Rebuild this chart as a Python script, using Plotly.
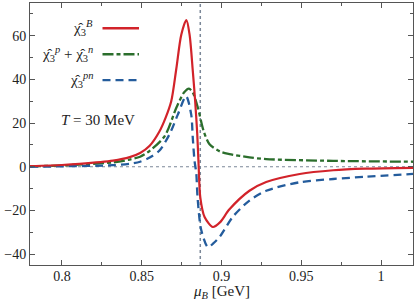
import plotly.graph_objects as go

# --- data ---
mu_B = [0.78, 0.80, 0.811, 0.832, 0.8425, 0.849, 0.855, 0.861, 0.865, 0.8685, 0.8717, 0.8748,
        0.878, 0.880, 0.882, 0.8835, 0.8848, 0.8857, 0.8867, 0.8894, 0.8946, 0.899, 0.905,
        0.9175, 0.928, 0.949, 0.97, 0.99, 1.02]
chi_B = [0.3, 0.8, 1.3, 2.8, 4.4, 6.3, 9.6, 16.0, 22.5, 30.0, 45.0, 60.5,
         67.2, 60.5, 44.0, 30.0, 15.0, 0.0, -14.0, -23.0, -27.6, -25.5, -19.5,
         -11.0, -7.0, -3.3, -1.6, -0.9, -0.5]

mu_pn = [0.78, 0.80, 0.832, 0.8425, 0.849, 0.855, 0.8644, 0.8717, 0.8765, 0.8796, 0.882,
         0.8852, 0.8888, 0.8925, 0.899, 0.905, 0.9175, 0.928, 0.97, 1.02]
chi_p_plus_n = [0.2, 0.6, 2.0, 3.3, 4.6, 7.3, 14.0, 27.0, 34.0, 35.8, 34.0,
                27.0, 16.4, 10.3, 7.0, 5.8, 4.3, 3.5, 2.7, 2.3]

mu_x = [0.78, 0.80, 0.832, 0.8425, 0.849, 0.855, 0.861, 0.8675, 0.8727, 0.8778, 0.881,
        0.882, 0.8831, 0.8842, 0.885, 0.8873, 0.8915, 0.895, 0.899, 0.907, 0.9175,
        0.928, 0.949, 0.97, 0.99, 1.02]
chi_pn = [0.0, 0.2, 0.7, 1.4, 2.3, 4.2, 7.3, 15.0, 24.0, 32.3, 24.0,
          13.3, 2.7, -3.0, -14.0, -29.0, -36.8, -35.0, -32.0, -23.0, -15.5,
          -11.0, -7.1, -5.6, -4.6, -3.3]

mu_transition = 0.8867

x_ticks = [0.8, 0.85, 0.9, 0.95, 1.0]
x_ticklabels = ["0.8", "0.85", "0.9", "0.95", "1"]
y_ticks = [-40, -20, 0, 20, 40, 60]

RED = "#d2232a"
GREEN = "#2b6e2c"
BLUE = "#245c9c"
FONT = "Liberation Serif"
TXT = "#222222"

fig = go.Figure()
fig.add_trace(go.Scatter(x=mu_pn, y=chi_p_plus_n, mode="lines",
                         line=dict(color=GREEN, width=2.3, dash="11px,3px,4px,3px", shape="spline", smoothing=0.8),
                         showlegend=False))
fig.add_trace(go.Scatter(x=mu_x, y=chi_pn, mode="lines",
                         line=dict(color=BLUE, width=2.3, dash="8px,5px", shape="spline", smoothing=0.8),
                         showlegend=False))
fig.add_trace(go.Scatter(x=mu_B, y=chi_B, mode="lines",
                         line=dict(color=RED, width=2.2, shape="spline", smoothing=0.8),
                         showlegend=False))

ref_color = "#7b8798"
fig.add_vline(x=mu_transition, line=dict(color=ref_color, width=1.5, dash="dot"), layer="below")
fig.add_hline(y=0, line=dict(color=ref_color, width=1, dash="dot"), layer="below")

axis_common = dict(showline=True, linecolor="#555555", linewidth=1, mirror="ticks",
                   ticks="inside", ticklen=5, tickcolor="#555555", showgrid=False,
                   zeroline=False, tickfont=dict(family=FONT, size=14, color=TXT))

fig.update_xaxes(range=[0.78, 1.02], tickvals=x_ticks, ticktext=x_ticklabels,
                 minor=dict(dtick=0.025, tick0=0.8, ticks="inside", ticklen=3, tickcolor="#555555"),
                 ticklabelstandoff=-2,
                 **axis_common)
fig.update_yaxes(range=[-45, 75], tickvals=y_ticks,
                 minor=dict(dtick=10, tick0=0, ticks="inside", ticklen=3, tickcolor="#555555"),
                 **axis_common)

# manual legend (text left of line sample)
def px_x(p):
    return (p - 30) / 383.0

def px_y(p):
    return 1 - (p - 2.7) / 262.3

legend_rows = [
    ("χ̂<sub>3</sub><sup><i>B</i></sup>", RED, "solid", 28),
    ("χ̂<sub>3</sub><sup><i>p</i></sup> + χ̂<sub>3</sub><sup><i>n</i></sup>", GREEN, "11px,3px,4px,3px", 54),
    ("χ̂<sub>3</sub><sup><i>pn</i></sup>", BLUE, "8px,5px", 80),
]
for text, col, dash, ypx in legend_rows:
    fig.add_annotation(x=px_x(95), y=px_y(ypx), xref="paper", yref="paper", text=text,
                       showarrow=False, xanchor="right", yanchor="middle",
                       font=dict(family=FONT, size=15, color=TXT))
    fig.add_shape(type="line", xref="paper", yref="paper",
                  x0=px_x(102.5), x1=px_x(139), y0=px_y(ypx), y1=px_y(ypx),
                  line=dict(color=col, width=2.3, dash=dash))

fig.add_annotation(x=px_x(137), y=px_y(120), xref="paper", yref="paper",
                   text="<i>T</i> = 30 MeV", showarrow=False, xanchor="right", yanchor="middle",
                   font=dict(family=FONT, size=15, color=TXT))

# x-axis title as annotation
fig.add_annotation(x=px_x(222), y=px_y(292), xref="paper", yref="paper",
                   text="<i>μ</i><sub><i>B</i></sub> [GeV]", showarrow=False,
                   xanchor="center", yanchor="middle",
                   font=dict(family=FONT, size=15, color=TXT))

fig.update_layout(width=415, height=306, margin=dict(l=30, r=2, t=3, b=41),
                  font=dict(family=FONT, size=14, color=TXT),
                  plot_bgcolor="white", paper_bgcolor="white")

fig.write_html("out.html", config={"displayModeBar": False},
               post_script="document.body.style.margin='0px';document.body.style.padding='0px';")
